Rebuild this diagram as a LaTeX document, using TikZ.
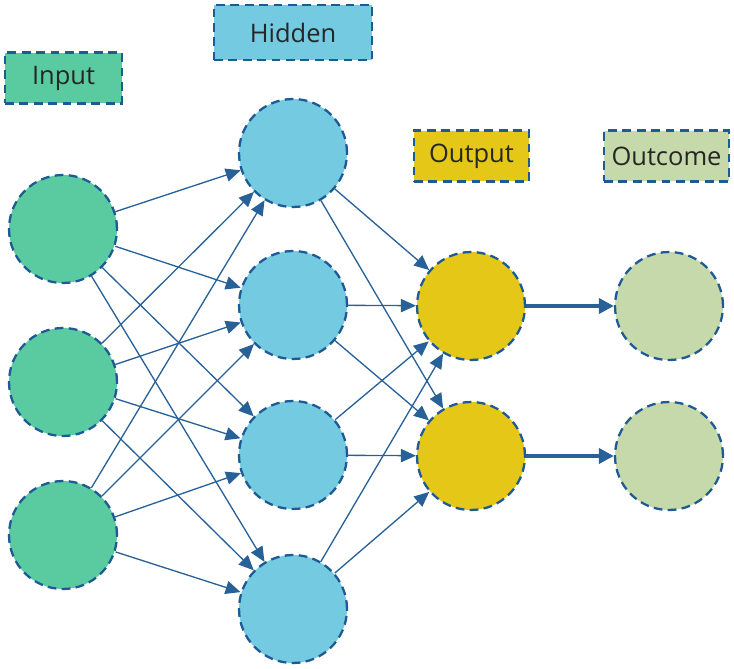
\documentclass[tikz,border=0pt]{standalone}
\usepackage{fontspec}
\setmainfont{Open Sans}
\usepackage{tikz}
\usetikzlibrary{arrows.meta}

\definecolor{inputgreen}{RGB}{90,203,160}
\definecolor{hiddenblue}{RGB}{116,203,225}
\definecolor{outputyellow}{RGB}{229,200,23}
\definecolor{outcomegreen}{RGB}{198,217,170}
\definecolor{rimblue}{RGB}{30,90,148}
\definecolor{linkblue}{RGB}{40,96,152}

\tikzset{
  neuron/.style={circle, draw=rimblue, line width=1.3pt, dash pattern=on 5pt off 3pt, minimum size=2.16cm, inner sep=0pt},
  tag/.style={rectangle, draw=rimblue, line width=1.3pt, dash pattern=on 5pt off 3.2pt, minimum height=1.02cm, font=\fontsize{14.5}{17}\selectfont, text=black!85},
  link/.style={draw=linkblue, line width=0.75pt, -{Triangle[length=8.5pt, width=7.5pt]}},
  result/.style={draw=linkblue, line width=2.3pt, -{Triangle[length=8.5pt, width=8.5pt]}}
}

\begin{document}
\begin{tikzpicture}[x=0.02cm, y=-0.02cm]
\useasboundingbox (0,0) rectangle (734,669);

% layer titles
\node[tag, fill=inputgreen, minimum width=2.34cm] (tin) at (63.5,78) {Input};
\node[tag, fill=hiddenblue, minimum width=3.16cm, minimum height=1.1cm] (thid) at (293,32.5) {Hidden};
\node[tag, fill=outputyellow, minimum width=2.3cm] (tout) at (471.5,156) {Output};
\node[tag, fill=outcomegreen, minimum width=2.5cm] (tres) at (666.5,156) {Outcome};

% input layer
\node[neuron, fill=inputgreen] (i1) at (63,229) {};
\node[neuron, fill=inputgreen] (i2) at (63,382) {};
\node[neuron, fill=inputgreen] (i3) at (63,535) {};

% hidden layer
\node[neuron, fill=hiddenblue] (h1) at (293,153) {};
\node[neuron, fill=hiddenblue] (h2) at (293,305) {};
\node[neuron, fill=hiddenblue] (h3) at (293,455) {};
\node[neuron, fill=hiddenblue] (h4) at (293,609) {};

% output layer
\node[neuron, fill=outputyellow] (o1) at (471,306) {};
\node[neuron, fill=outputyellow] (o2) at (471,456) {};

% outcomes
\node[neuron, fill=outcomegreen] (r1) at (669,306) {};
\node[neuron, fill=outcomegreen] (r2) at (669,456) {};

% connections
\foreach \i in {1,2,3}
  \foreach \h in {1,2,3,4}
    \draw[link] (i\i) -- (h\h);
\foreach \h in {1,2,3,4}
  \foreach \o in {1,2}
    \draw[link] (h\h) -- (o\o);
\draw[result] (o1) -- (r1);
\draw[result] (o2) -- (r2);
\end{tikzpicture}
\end{document}
